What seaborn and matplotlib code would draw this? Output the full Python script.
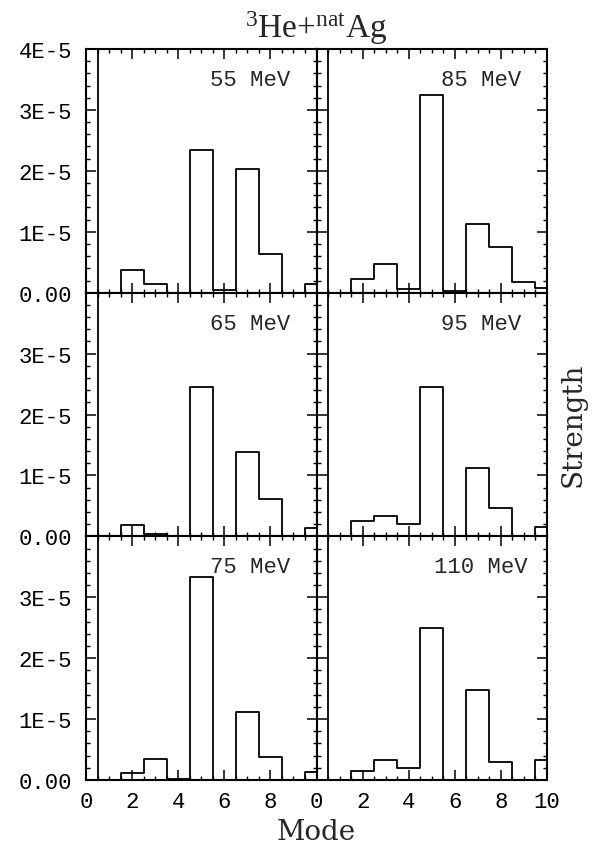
import matplotlib
matplotlib.use("Agg")
import matplotlib.pyplot as plt
from matplotlib.ticker import MultipleLocator
import seaborn as sns

# mode number of each histogram bin
modes = [0, 1, 2, 3, 4, 5, 6, 7, 8, 9, 10]

# strength per mode (units of 1E-5); mode 0 runs off the top of every panel
strength_55 = [5.0, 0.0, 0.37, 0.15, 0.0, 2.34, 0.05, 2.03, 0.63, 0.0, 0.15]
strength_85 = [5.0, 0.0, 0.22, 0.47, 0.06, 3.25, 0.03, 1.12, 0.745, 0.17, 0.085]
strength_65 = [5.0, 0.0, 0.19, 0.04, 0.0, 2.45, 0.0, 1.38, 0.61, 0.0, 0.14]
strength_95 = [5.0, 0.0, 0.25, 0.33, 0.21, 2.45, 0.0, 1.12, 0.47, 0.0, 0.16]
strength_75 = [5.0, 0.0, 0.12, 0.34, 0.02, 3.33, 0.0, 1.11, 0.375, 0.0, 0.13]
strength_110 = [5.0, 0.0, 0.155, 0.33, 0.19, 2.49, 0.0, 1.48, 0.29, 0.0, 0.33]

energies = ["55 MeV", "85 MeV", "65 MeV", "95 MeV", "75 MeV", "110 MeV"]
panel_data = [strength_55, strength_85, strength_65, strength_95, strength_75, strength_110]

y_ticks = [0.0, 1e-5, 2e-5, 3e-5, 4e-5]
y_labels_top = ["0.00", "1E-5", "2E-5", "3E-5", "4E-5"]
y_labels_lower = ["0.00", "1E-5", "2E-5", "3E-5", ""]
x_ticks = [0, 2, 4, 6, 8, 10]
x_labels_left = ["0", "2", "4", "6", "8", ""]
x_labels_right = ["0", "2", "4", "6", "8", "10"]

sns.set_style("ticks")
plt.rcParams["font.family"] = ["Liberation Mono", "DejaVu Sans"]
plt.rcParams["mathtext.fontset"] = "custom"
plt.rcParams["mathtext.rm"] = "Liberation Serif"
plt.rcParams["mathtext.it"] = "Liberation Serif:italic"
plt.rcParams["mathtext.bf"] = "Liberation Serif:bold"

fig, axes = plt.subplots(3, 2, figsize=(5.92, 8.45), dpi=100)
fig.subplots_adjust(left=0.1453, right=0.924, top=0.9408, bottom=0.0757,
                    wspace=0, hspace=0)

for i, ax in enumerate(axes.flat):
    row, col = divmod(i, 2)
    values = [v * 1e-5 for v in panel_data[i]]
    sns.histplot(x=modes, weights=values, discrete=True, element="step",
                 fill=False, color="black", linewidth=1.3, ax=ax)
    ax.set_xlim(0, 10)
    ax.set_ylim(0, 4e-5)
    ax.set_xlabel("")
    ax.set_ylabel("")

    ax.set_xticks(x_ticks)
    ax.set_yticks(y_ticks)
    ax.xaxis.set_minor_locator(MultipleLocator(0.5))
    ax.yaxis.set_minor_locator(MultipleLocator(0.2e-5))
    ax.tick_params(which="both", direction="in", top=True, right=True,
                   labelsize=16, colors="black")
    ax.tick_params(which="major", length=7.5, width=1.1)
    ax.tick_params(which="minor", length=3, width=1.0)
    ax.tick_params(axis="y", pad=10)
    ax.tick_params(axis="x", pad=8)

    if col == 0:
        ax.set_yticklabels(y_labels_top if row == 0 else y_labels_lower)
    else:
        ax.set_yticklabels([])
    if row == 2:
        ax.set_xticklabels(x_labels_left if col == 0 else x_labels_right)
    else:
        ax.set_xticklabels([])

    for spine in ax.spines.values():
        spine.set_linewidth(1.5)
        spine.set_color("black")

    ax.text(0.713, 0.875, energies[i], transform=ax.transAxes,
            ha="center", va="center", fontsize=16)

fig.text(0.534, 0.955, r"$^{3}$He+$^{\mathrm{nat}}$Ag", ha="center",
         va="baseline", fontsize=24, family="Liberation Serif")
fig.text(0.534, 0.006, "Mode", ha="center", va="baseline", fontsize=20,
         family="DejaVu Serif")
fig.text(0.968, 0.497, "Strength", ha="center", va="center", rotation=90,
         fontsize=20, family="DejaVu Serif")

fig.savefig("out.png", dpi=100)
plt.close(fig)
